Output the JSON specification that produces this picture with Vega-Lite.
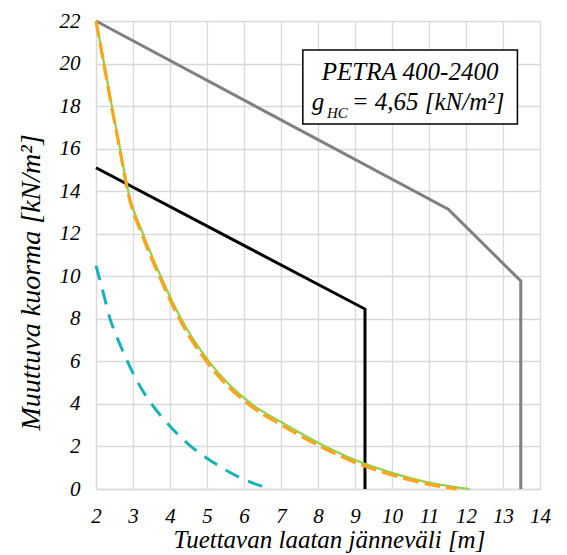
{
  "$schema": "https://vega.github.io/schema/vega-lite/v6.json",
  "width": 444,
  "height": 468,
  "autosize": {"type": "none"},
  "padding": {"left": 96, "top": 21, "right": 27, "bottom": 66},
  "background": "white",
  "config": {
    "view": {"stroke": null},
    "axis": {
      "labelFont": "Liberation Serif",
      "labelFontStyle": "italic",
      "labelFontSize": 21,
      "labelColor": "black",
      "labelOverlap": false,
      "labelFlush": false,
      "titleFont": "Liberation Serif",
      "titleFontStyle": "italic",
      "titleFontWeight": "normal",
      "titleColor": "black",
      "ticks": false,
      "domainColor": "#D9D9D9",
      "domainWidth": 1.3,
      "gridColor": "#D9D9D9",
      "gridWidth": 1.3,
      "gridOpacity": 1
    }
  },
  "datasets": {
    "lines": [
      {"s": "gray", "x": 2, "y": 22},
      {"s": "gray", "x": 11.52, "y": 13.15},
      {"s": "gray", "x": 13.48, "y": 9.78},
      {"s": "gray", "x": 13.48, "y": 0},
      {"s": "black", "x": 2, "y": 15.1},
      {"s": "black", "x": 9.27, "y": 8.46},
      {"s": "black", "x": 9.27, "y": 0}
    ],
    "curves": [
      {"s": "cyan", "x": 2, "y": 10.5},
      {"s": "cyan", "x": 2.2, "y": 9.2},
      {"s": "cyan", "x": 2.38, "y": 8},
      {"s": "cyan", "x": 2.6, "y": 7},
      {"s": "cyan", "x": 2.85, "y": 6},
      {"s": "cyan", "x": 3, "y": 5.45},
      {"s": "cyan", "x": 3.25, "y": 4.65},
      {"s": "cyan", "x": 3.5, "y": 4},
      {"s": "cyan", "x": 4, "y": 2.95},
      {"s": "cyan", "x": 4.5, "y": 2.1},
      {"s": "cyan", "x": 5, "y": 1.45},
      {"s": "cyan", "x": 5.5, "y": 0.9},
      {"s": "cyan", "x": 6, "y": 0.45},
      {"s": "cyan", "x": 6.4, "y": 0.18},
      {"s": "cyan", "x": 6.75, "y": 0},
      {"s": "green", "x": 2, "y": 22},
      {"s": "green", "x": 2.22, "y": 20},
      {"s": "green", "x": 2.43, "y": 18},
      {"s": "green", "x": 2.65, "y": 16},
      {"s": "green", "x": 2.87, "y": 14},
      {"s": "green", "x": 3.27, "y": 12},
      {"s": "green", "x": 3.75, "y": 10},
      {"s": "green", "x": 4.3, "y": 8},
      {"s": "green", "x": 5.05, "y": 6},
      {"s": "green", "x": 6.2, "y": 4},
      {"s": "green", "x": 7, "y": 3.15},
      {"s": "green", "x": 8.2, "y": 2},
      {"s": "green", "x": 9, "y": 1.36},
      {"s": "green", "x": 10, "y": 0.76},
      {"s": "green", "x": 11, "y": 0.3},
      {"s": "green", "x": 12.1, "y": 0},
      {"s": "orange", "x": 2, "y": 22},
      {"s": "orange", "x": 2.22, "y": 19.9},
      {"s": "orange", "x": 2.43, "y": 17.9},
      {"s": "orange", "x": 2.65, "y": 15.9},
      {"s": "orange", "x": 2.87, "y": 13.9},
      {"s": "orange", "x": 3.27, "y": 11.85},
      {"s": "orange", "x": 3.75, "y": 9.85},
      {"s": "orange", "x": 4.3, "y": 7.85},
      {"s": "orange", "x": 5.05, "y": 5.85},
      {"s": "orange", "x": 6.2, "y": 3.88},
      {"s": "orange", "x": 7, "y": 3.02},
      {"s": "orange", "x": 8.2, "y": 1.88},
      {"s": "orange", "x": 9, "y": 1.25},
      {"s": "orange", "x": 10, "y": 0.66},
      {"s": "orange", "x": 11, "y": 0.22},
      {"s": "orange", "x": 11.75, "y": 0}
    ],
    "note1": [{"t": "PETRA 400-2400"}],
    "note2": [{"t": "g"}],
    "note3": [{"t": "HC"}],
    "note4": [{"t": "= 4,65 [kN/m²]"}]
  },
  "layer": [
    {
      "data": {"name": "lines"},
      "transform": [{"filter": "datum.s === 'gray'"}],
      "mark": {"type": "line", "color": "#808080", "strokeWidth": 3, "clip": false},
      "encoding": {
        "x": {"field": "x", "type": "quantitative",
          "scale": {"domain": [2, 14], "nice": false, "zero": false},
          "axis": {"tickCount": 12, "labelPadding": 16,
            "title": "Tuettavan laatan jänneväli [m]", "titleFontSize": 25, "titleX": 233, "titleY": 58, "titleBaseline": "alphabetic", "titleAlign": "center"}},
        "y": {"field": "y", "type": "quantitative",
          "scale": {"domain": [0, 22], "nice": false, "zero": false},
          "axis": {"tickCount": 11, "labelPadding": 16,
            "title": "Muuttuva kuorma [kN/m²]", "titleFontSize": 28, "titleX": -57, "titleY": 261, "titleBaseline": "alphabetic", "titleAlign": "center", "titleAngle": 270}},
        "order": {"field": "x", "type": "quantitative"}
      }
    },
    {
      "data": {"name": "lines"},
      "transform": [{"filter": "datum.s === 'black'"}],
      "mark": {"type": "line", "color": "#000000", "strokeWidth": 3, "clip": false},
      "encoding": {
        "x": {"field": "x", "type": "quantitative", "scale": {"domain": [2, 14], "nice": false, "zero": false}},
        "y": {"field": "y", "type": "quantitative", "scale": {"domain": [0, 22], "nice": false, "zero": false}},
        "order": {"field": "x", "type": "quantitative"}
      }
    },
    {
      "data": {"name": "curves"},
      "transform": [{"filter": "datum.s === 'cyan'"}],
      "mark": {"type": "line", "color": "#17B1BA", "strokeWidth": 3, "strokeDash": [15, 10], "interpolate": "monotone", "clip": false},
      "encoding": {
        "x": {"field": "x", "type": "quantitative", "scale": {"domain": [2, 14], "nice": false, "zero": false}},
        "y": {"field": "y", "type": "quantitative", "scale": {"domain": [0, 22], "nice": false, "zero": false}}
      }
    },
    {
      "data": {"name": "curves"},
      "transform": [{"filter": "datum.s === 'green'"}],
      "mark": {"type": "line", "color": "#92D050", "strokeWidth": 2.2, "interpolate": "monotone", "clip": false},
      "encoding": {
        "x": {"field": "x", "type": "quantitative", "scale": {"domain": [2, 14], "nice": false, "zero": false}},
        "y": {"field": "y", "type": "quantitative", "scale": {"domain": [0, 22], "nice": false, "zero": false}}
      }
    },
    {
      "data": {"name": "curves"},
      "transform": [{"filter": "datum.s === 'orange'"}],
      "mark": {"type": "line", "color": "#FFA41B", "strokeWidth": 3.2, "strokeDash": [16, 6], "interpolate": "monotone", "clip": false},
      "encoding": {
        "x": {"field": "x", "type": "quantitative", "scale": {"domain": [2, 14], "nice": false, "zero": false}},
        "y": {"field": "y", "type": "quantitative", "scale": {"domain": [0, 22], "nice": false, "zero": false}}
      }
    },
    {
      "data": {"name": "note1"},
      "mark": {"type": "rect", "fill": "white", "stroke": "black", "strokeWidth": 1.5},
      "encoding": {
        "x": {"datum": 7.59, "type": "quantitative"},
        "x2": {"datum": 13.39},
        "y": {"datum": 17.16, "type": "quantitative"},
        "y2": {"datum": 20.64}
      }
    },
    {
      "data": {"name": "note1"},
      "mark": {"type": "text", "font": "Liberation Serif", "fontStyle": "italic", "fontSize": 25, "align": "center", "baseline": "alphabetic", "color": "black"},
      "encoding": {
        "x": {"datum": 10.49, "type": "quantitative"},
        "y": {"datum": 19.23, "type": "quantitative"},
        "text": {"field": "t"}
      }
    },
    {
      "data": {"name": "note2"},
      "mark": {"type": "text", "font": "Liberation Serif", "fontStyle": "italic", "fontSize": 25, "align": "left", "baseline": "alphabetic", "color": "black"},
      "encoding": {
        "x": {"datum": 7.83, "type": "quantitative"},
        "y": {"datum": 17.82, "type": "quantitative"},
        "text": {"field": "t"}
      }
    },
    {
      "data": {"name": "note3"},
      "mark": {"type": "text", "font": "Liberation Serif", "fontStyle": "italic", "fontSize": 15, "align": "left", "baseline": "alphabetic", "color": "black"},
      "encoding": {
        "x": {"datum": 8.24, "type": "quantitative"},
        "y": {"datum": 17.43, "type": "quantitative"},
        "text": {"field": "t"}
      }
    },
    {
      "data": {"name": "note4"},
      "mark": {"type": "text", "font": "Liberation Serif", "fontStyle": "italic", "fontSize": 25, "align": "left", "baseline": "alphabetic", "color": "black"},
      "encoding": {
        "x": {"datum": 8.91, "type": "quantitative"},
        "y": {"datum": 17.82, "type": "quantitative"},
        "text": {"field": "t"}
      }
    }
  ]
}
